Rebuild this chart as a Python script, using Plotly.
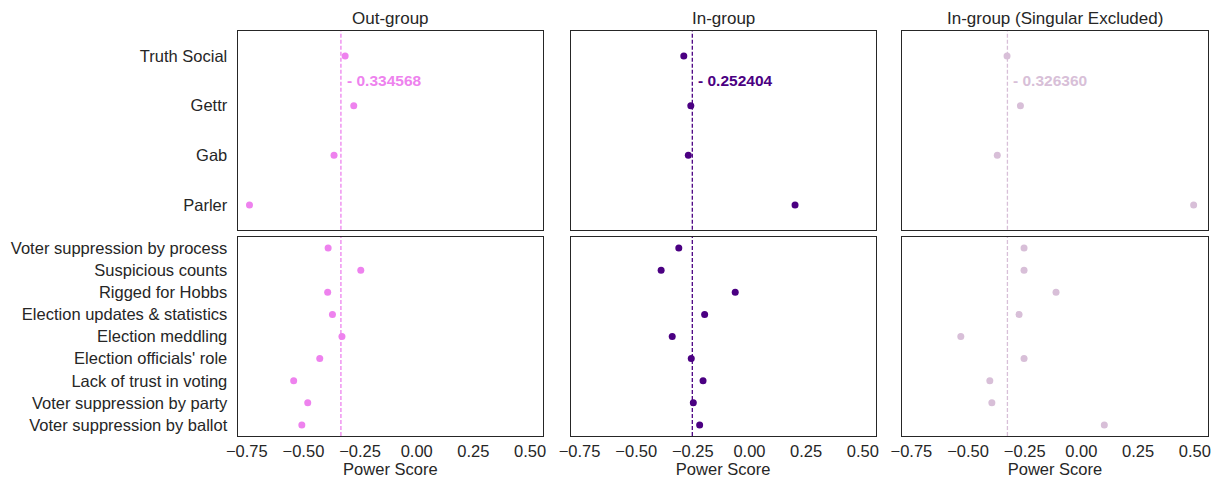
import plotly.graph_objects as go

# ---------------- data ----------------
platforms = ["Truth Social", "Gettr", "Gab", "Parler"]
topics = [
    "Voter suppression by process",
    "Suspicious counts",
    "Rigged for Hobbs",
    "Election updates & statistics",
    "Election meddling",
    "Election officials' role",
    "Lack of trust in voting",
    "Voter suppression by party",
    "Voter suppression by ballot",
]
panel_titles = ["Out-group", "In-group", "In-group (Singular Excluded)"]

out_platform = [-0.316, -0.278, -0.365, -0.738]
in_platform = [-0.290, -0.259, -0.270, 0.201]
inx_platform = [-0.328, -0.269, -0.371, 0.495]

out_topic = [-0.391, -0.247, -0.393, -0.372, -0.330, -0.428, -0.543, -0.481, -0.507]
in_topic = [-0.312, -0.390, -0.063, -0.198, -0.341, -0.257, -0.205, -0.248, -0.220]
inx_topic = [-0.253, -0.253, -0.112, -0.275, -0.532, -0.253, -0.404, -0.395, 0.101]

reference_scores = [-0.334568, -0.252404, -0.326360]
colors = ["#EE82EE", "#4B0082", "#D8BFD8"]

x_ticks = [-0.75, -0.50, -0.25, 0.00, 0.25, 0.50]
x_tick_text = ["\u22120.75", "\u22120.50", "\u22120.25", "0.00", "0.25", "0.50"]
x_label = "Power Score"

# ---------------- layout ----------------
W, H = 1219, 481
FONT = "Liberation Sans, Arial, sans-serif"
TXT = "#262626"
col_px = [(237.7, 543.0), (570.5, 875.7), (902.3, 1207.7)]
row_px = [(31.3, 229.7), (237.0, 436.0)]
x_range = [-0.79, 0.557]

rows_data = [
    (platforms, [out_platform, in_platform, inx_platform]),
    (topics, [out_topic, in_topic, inx_topic]),
]

fig = go.Figure()
layout = dict(
    width=W, height=H,
    margin=dict(l=0, r=0, t=0, b=0, autoexpand=False),
    paper_bgcolor="white", plot_bgcolor="white",
    showlegend=False,
    font=dict(family=FONT, size=16, color=TXT),
)
shapes = []
annotations = []

for r, (cats, series) in enumerate(rows_data):
    for c in range(3):
        k = r * 3 + c + 1
        xn = "xaxis" if k == 1 else f"xaxis{k}"
        yn = "yaxis" if k == 1 else f"yaxis{k}"
        xr = "x" if k == 1 else f"x{k}"
        yr = "y" if k == 1 else f"y{k}"
        x0, x1 = col_px[c]
        y0, y1 = row_px[r]
        layout[xn] = dict(
            domain=[x0 / W, x1 / W], anchor=yr, range=x_range,
            automargin=False,
            showgrid=False, zeroline=False, showline=True, mirror=True,
            linecolor=TXT, linewidth=1.2, ticks="",
            tickvals=x_ticks, ticktext=x_tick_text,
            showticklabels=(r == 1),
            tickfont=dict(size=16.5, color=TXT, family=FONT),
            title=dict(text=x_label if r == 1 else "", font=dict(size=16.5, color=TXT), standoff=4),
        )
        layout[yn] = dict(
            domain=[1 - y1 / H, 1 - y0 / H], anchor=xr, type="category",
            categoryorder="array", categoryarray=cats,
            range=[len(cats) - 0.5, -0.5],
            automargin=False,
            showgrid=False, zeroline=False, showline=True, mirror=True,
            linecolor=TXT, linewidth=1.2, ticks="",
            showticklabels=(c == 0),
            tickfont=dict(size=16.5, color=TXT, family=FONT),
            ticklabelstandoff=6,
        )
        fig.add_trace(go.Scatter(
            x=series[c], y=cats, mode="markers", xaxis=xr, yaxis=yr,
            marker=dict(color=colors[c], size=7, line=dict(width=0)),
        ))
        shapes.append(dict(
            type="line", xref=xr, yref=f"{yr} domain",
            x0=reference_scores[c], x1=reference_scores[c], y0=0, y1=1,
            line=dict(color=colors[c], width=1.3, dash="4px,2px"),
        ))
        if r == 0:
            annotations.append(dict(
                xref=xr, yref=yr, x=reference_scores[c], y=0.5,
                text="<b>- %.6f</b>" % abs(reference_scores[c]),
                showarrow=False, xanchor="left", yanchor="middle", xshift=4,
                font=dict(size=15.5, color=colors[c], family=FONT),
            ))
            annotations.append(dict(
                xref="paper", yref="paper", x=(x0 + x1) / 2 / W, y=1 - 18 / H,
                text=panel_titles[c], showarrow=False,
                xanchor="center", yanchor="middle",
                font=dict(size=17, color=TXT, family=FONT),
            ))

layout["shapes"] = shapes
layout["annotations"] = annotations
fig.update_layout(**layout)
fig.write_html("out.html")
